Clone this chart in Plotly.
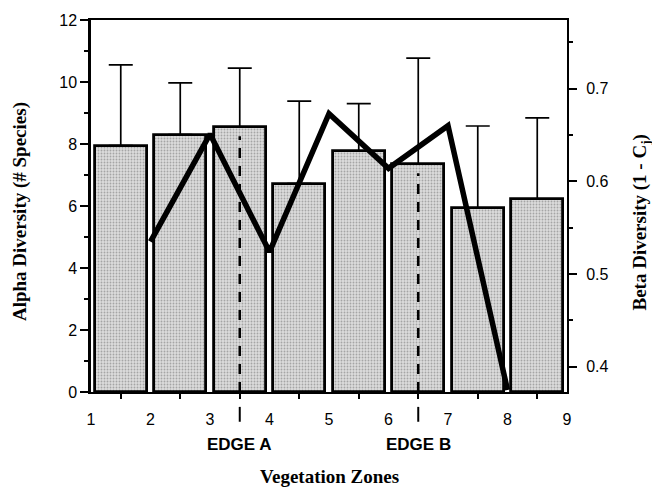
import plotly.graph_objects as go

# ---- data ----
zone_centers = [1.5, 2.5, 3.5, 4.5, 5.5, 6.5, 7.5, 8.5]
alpha_mean = [7.95, 8.3, 8.55, 6.72, 7.78, 7.36, 5.94, 6.22]
alpha_upper = [10.55, 9.97, 10.45, 9.38, 9.3, 10.77, 8.58, 8.84]

beta_zone = [2, 3, 4, 5, 6, 7, 8]
beta_div = [0.535, 0.651, 0.524, 0.673, 0.614, 0.660, 0.375]

zone_ticks = [1, 2, 3, 4, 5, 6, 7, 8, 9]
edge_pos = [3.5, 6.5]
edge_names = ["EDGE A", "EDGE B"]

err_plus = [u - m for u, m in zip(alpha_upper, alpha_mean)]

SANS = "Liberation Sans, Arial, sans-serif"
SERIF = "Liberation Serif, Times New Roman, serif"

fig = go.Figure()
fig.add_trace(go.Bar(
    x=zone_centers, y=alpha_mean, width=0.87,
    marker=dict(color="#cdcdcd", line=dict(color="black", width=2.8),
                pattern=dict(shape=".", fgcolor="#6e6e6e", bgcolor="#dcdcdc",
                             size=3, solidity=0.3)),
    error_y=dict(type="data", array=err_plus, arrayminus=[0] * len(err_plus),
                 symmetric=False, color="black", thickness=1.7, width=12),
    showlegend=False,
))
fig.add_trace(go.Scatter(
    x=beta_zone, y=beta_div, yaxis="y2", mode="lines",
    line=dict(color="black", width=5.5), showlegend=False,
))

# dashed edge lines inside bars, and edge markers below axis
for pos, name in zip(edge_pos, edge_names):
    h = alpha_mean[zone_centers.index(pos)]
    fig.add_shape(type="line", xref="x", yref="y", x0=pos, x1=pos, y0=0, y1=h - 0.3,
                  line=dict(color="black", width=2.5, dash="10px,8px"), layer="above")
    fig.add_shape(type="line", xref="x", yref="paper", x0=pos, x1=pos, y0=-0.04, y1=-0.08,
                  line=dict(color="black", width=2))
    fig.add_annotation(x=pos, xref="x", y=-0.142, yref="paper", text="<b>" + name + "</b>",
                       showarrow=False, font=dict(family=SANS, size=17, color="black"),
                       xanchor="center", yanchor="middle")

fig.add_annotation(x=0.5, xref="paper", y=-0.2275, yref="paper", text="<b>Vegetation Zones</b>",
                   showarrow=False, font=dict(family=SERIF, size=19, color="black"),
                   xanchor="center", yanchor="middle")
fig.add_annotation(x=-0.149, xref="paper", y=0.484, yref="paper",
                   text="<b>Alpha Diversity (# Species)</b>", textangle=-90,
                   showarrow=False, font=dict(family=SERIF, size=19, color="black"),
                   xanchor="center", yanchor="middle")
fig.add_annotation(x=1.155, xref="paper", y=0.455, yref="paper",
                   text="<b>Beta Diversity (1 - C<sub>j</sub>)</b>", textangle=-90,
                   showarrow=False, font=dict(family=SERIF, size=19, color="black"),
                   xanchor="center", yanchor="middle")

fig.update_layout(
    width=652, height=487,
    margin=dict(l=91, r=85, t=18, b=95),
    paper_bgcolor="white", plot_bgcolor="white",
    bargap=0,
    xaxis=dict(range=[1, 9], tickvals=zone_ticks, ticks="", showgrid=False, zeroline=False,
               showline=True, linecolor="black", linewidth=2, mirror=True,
               ticklabelstandoff=12,
               tickfont=dict(family=SANS, size=16, color="black"),
               minor=dict(tick0=1.5, dtick=1, ticks="outside", ticklen=5, tickwidth=2,
                          tickcolor="black", showgrid=False)),
    yaxis=dict(range=[0, 12], dtick=2, ticks="outside", ticklen=8, tickwidth=2,
               tickcolor="black", showgrid=False, zeroline=False,
               showline=True, linecolor="black", linewidth=2.5,
               tickfont=dict(family=SANS, size=16, color="black"),
               minor=dict(dtick=1, ticks="outside", ticklen=4, tickwidth=2,
                          tickcolor="black", showgrid=False)),
    yaxis2=dict(range=[0.3728, 0.774], overlaying="y", side="right",
                tickvals=[0.4, 0.5, 0.6, 0.7], ticks="outside", ticklen=8, tickwidth=2,
                tickcolor="black", showgrid=False, zeroline=False,
                showline=True, linecolor="black", linewidth=2,
                ticklabelstandoff=6,
                tickfont=dict(family=SANS, size=16, color="black"),
                minor=dict(tick0=0.35, dtick=0.1, ticks="outside", ticklen=4, tickwidth=2,
                           tickcolor="black", showgrid=False)),
)

fig.write_html("out.html", config={"displayModeBar": False},
               post_script="document.body.style.margin='0';document.body.style.overflow='hidden';")
